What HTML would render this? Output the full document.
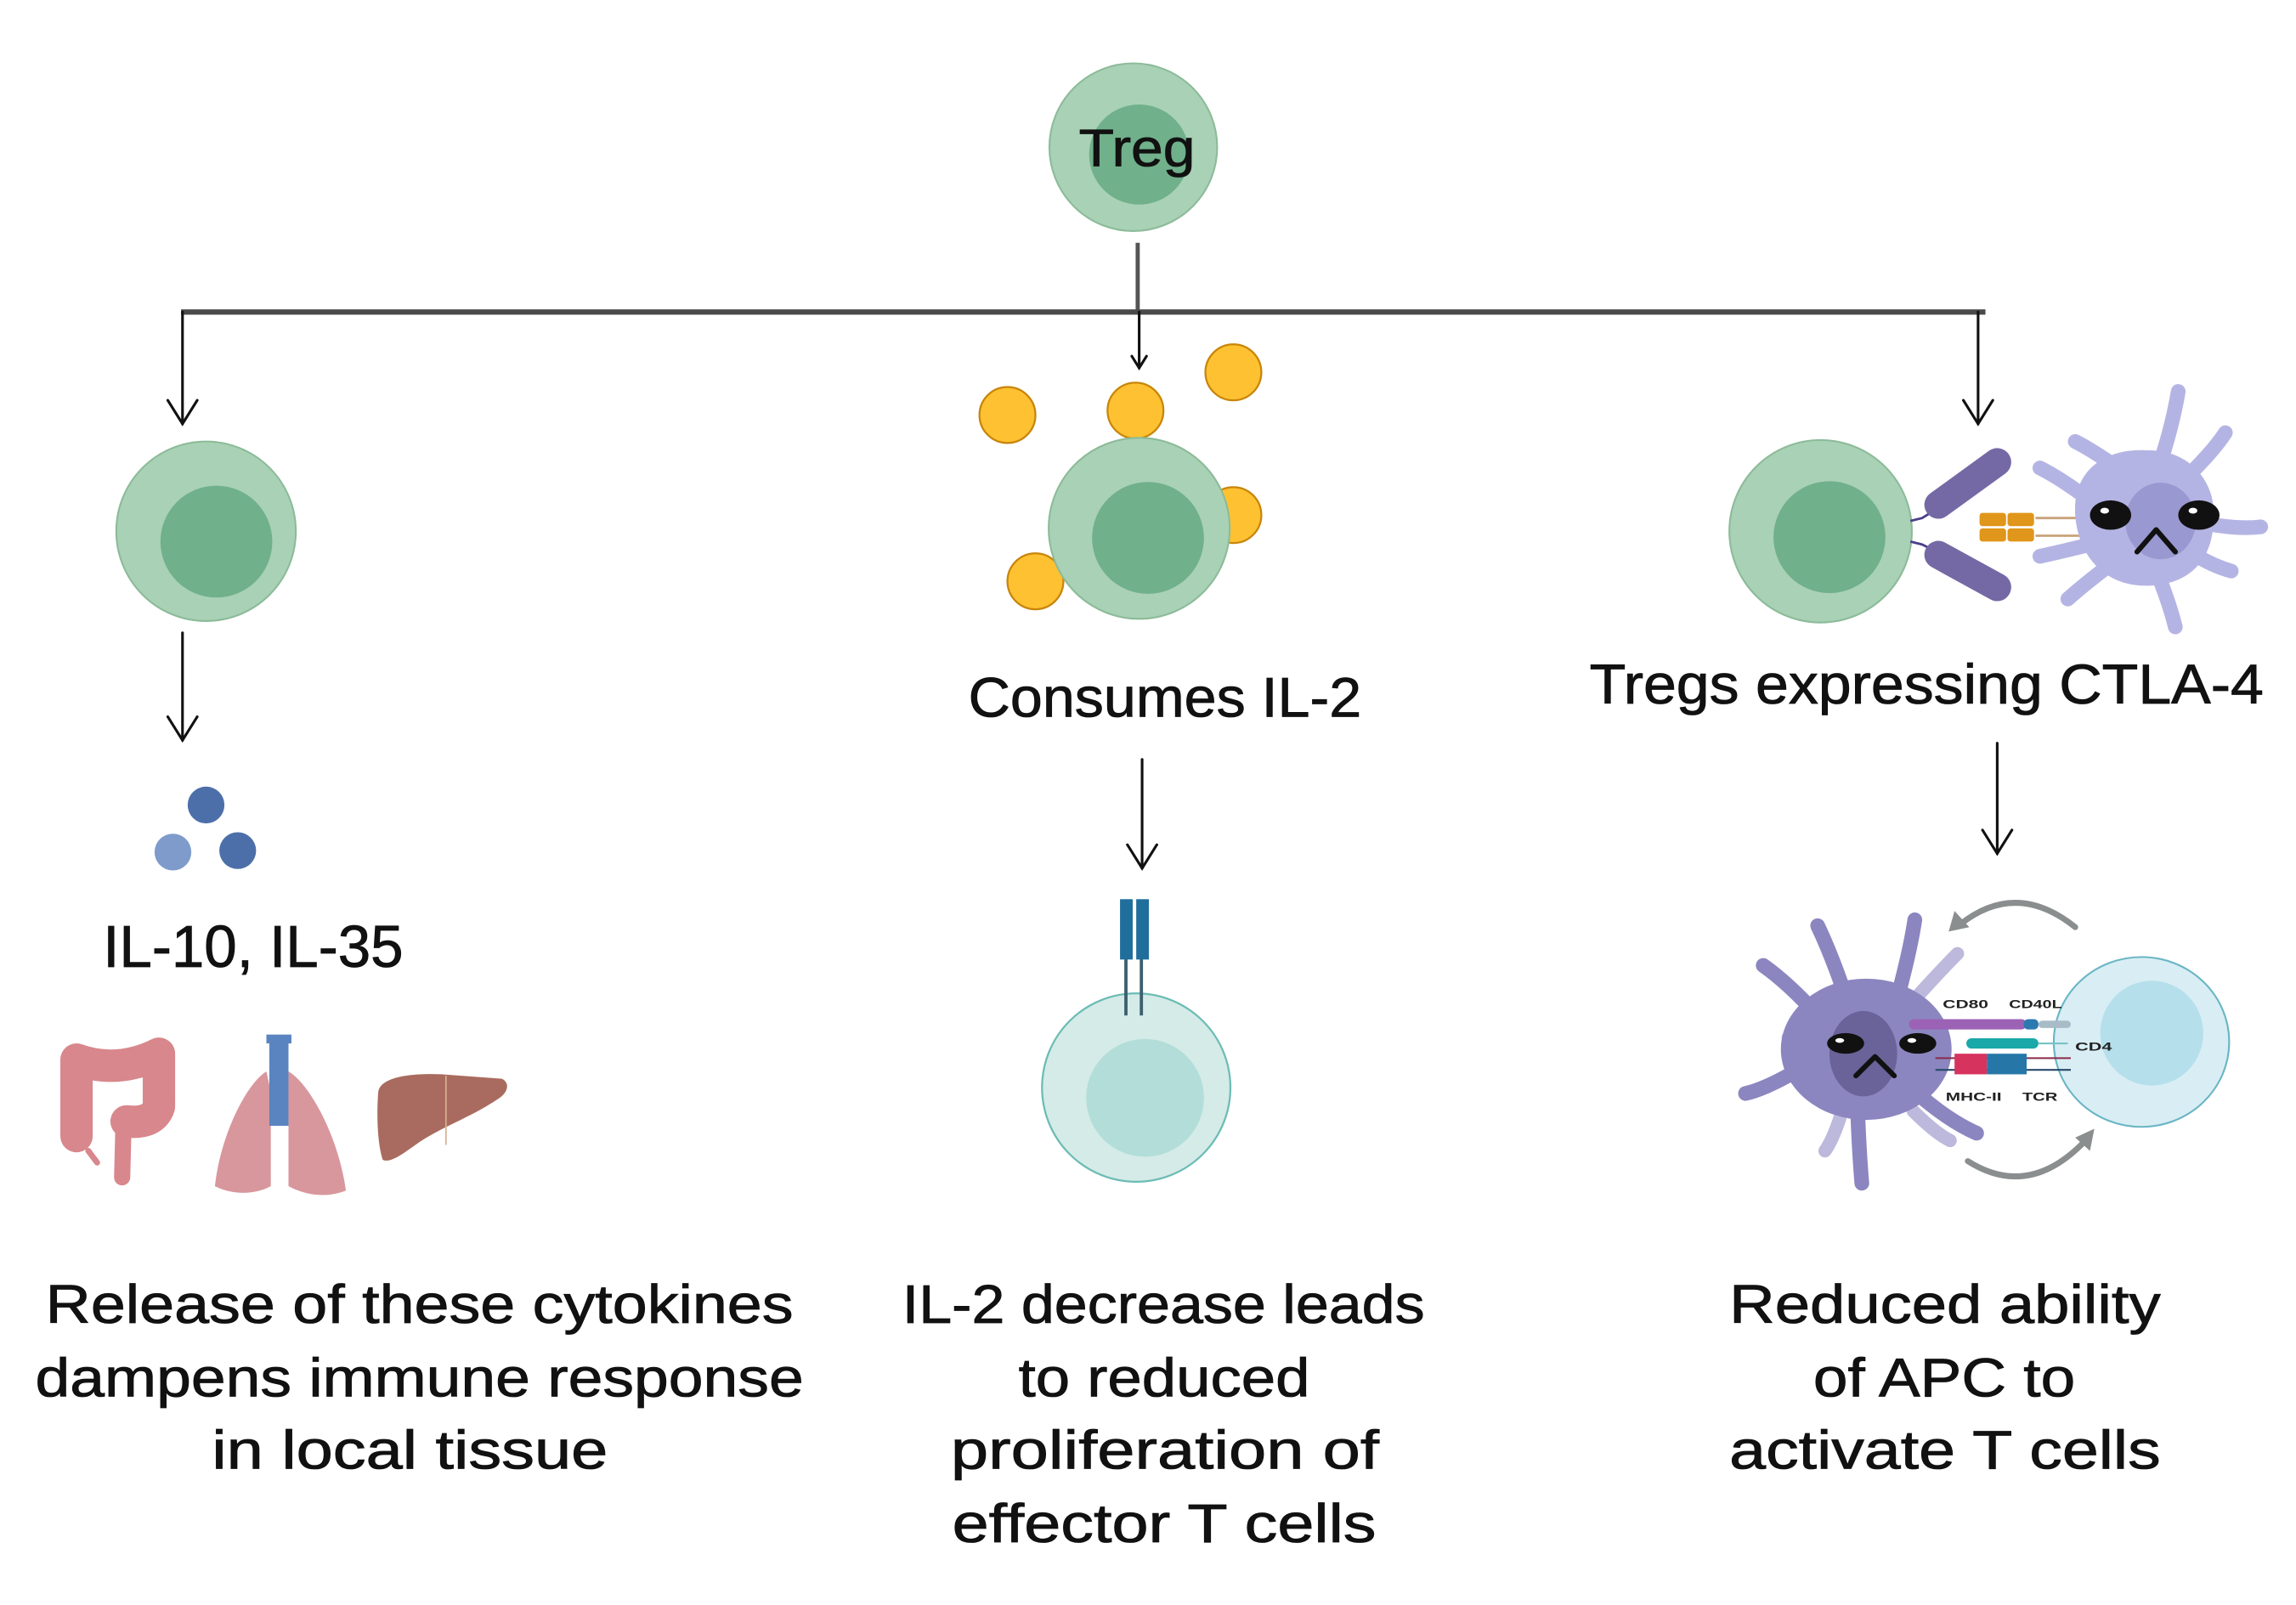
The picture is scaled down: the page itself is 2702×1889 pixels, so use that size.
<!DOCTYPE html>
<html><head><meta charset="utf-8"><style>
html,body{margin:0;padding:0;background:#fff;}
svg{display:block;}
.t{font-family:"Liberation Sans",sans-serif;fill:#111;stroke:#111;stroke-width:0.5;}
.s{font-family:"Liberation Sans",sans-serif;fill:#222;font-size:8px;font-weight:bold;}
</style></head><body>
<svg width="2702" height="1889" viewBox="0 0 1560 1090.6" preserveAspectRatio="none" xmlns="http://www.w3.org/2000/svg">
<rect width="1560" height="1091" fill="#fff"/>

<!-- Top Treg -->
<circle cx="770" cy="100" r="57" fill="#a9d1b5" stroke="#8cbb99" stroke-width="1.2"/>
<circle cx="774" cy="105" r="34" fill="#70b08b"/>
<text class="t" x="733" y="113" font-size="36" textLength="79" lengthAdjust="spacingAndGlyphs">Treg</text>

<!-- connector lines -->
<line x1="773" y1="165" x2="773" y2="212" stroke="#555" stroke-width="2.8"/>
<line x1="123" y1="212" x2="1349" y2="212" stroke="#4a4a4a" stroke-width="3.6"/>
<g stroke="#111" stroke-width="1.8" fill="none" stroke-linecap="round">
  <line x1="124" y1="212" x2="124" y2="288"/><polyline points="114,272 124,288 134,272"/>
  <line x1="774" y1="212" x2="774" y2="250"/><polyline points="769,242 774,250 779,242"/>
  <line x1="1344" y1="212" x2="1344" y2="288"/><polyline points="1334,272 1344,288 1354,272"/>
  <line x1="124" y1="430" x2="124" y2="503"/><polyline points="114,487 124,503 134,487"/>
  <line x1="776" y1="516" x2="776" y2="590"/><polyline points="766,574 776,590 786,574"/>
  <line x1="1357" y1="505" x2="1357" y2="580"/><polyline points="1347,564 1357,580 1367,564"/>
</g>

<!-- Left cell -->
<circle cx="140" cy="361" r="61" fill="#a9d1b5" stroke="#8cbb99" stroke-width="1.2"/>
<circle cx="147" cy="368" r="38" fill="#70b08b"/>

<!-- blue dots -->
<circle cx="140" cy="547" r="12.5" fill="#4d6fa9"/>
<circle cx="117.5" cy="579" r="12.5" fill="#7e9bcb"/>
<circle cx="161.5" cy="578" r="12.5" fill="#4d6fa9"/>

<text class="t" x="70" y="657" font-size="40" textLength="204" lengthAdjust="spacingAndGlyphs">IL-10, IL-35</text>

<!-- colon -->
<g fill="none" stroke="#d8878c" stroke-linecap="round" stroke-linejoin="round">
  <path d="M52 772 L52 720 Q80 730 108 716 L108 752 Q104 764 86 762" stroke-width="22"/>
  <path d="M84 760 L83 800" stroke-width="11"/>
  <path d="M60 782 L66 790" stroke-width="4"/>
</g>
<!-- lungs -->
<path d="M181 728 C168 736 150 770 146 806 C160 813 175 811 184 806 L184 742 Z" fill="#d8979c"/>
<path d="M196 728 C210 736 230 772 235 809 C220 815 205 811 196 806 L196 742 Z" fill="#d8979c"/>
<rect x="183" y="705" width="13" height="60" fill="#5a84c0"/>
<rect x="181" y="703" width="17" height="6" fill="#5a84c0"/>
<!-- liver -->
<path d="M257 742 C258 733 275 729 300 730 L341 733 C347 736 345 743 338 747 C320 759 300 766 285 776 C275 783 265 791 260 788 C256 775 256 755 257 742 Z" fill="#a96b5f"/>
<line x1="303" y1="731" x2="303" y2="778" stroke="#d6b08f" stroke-width="1"/>

<!-- Middle: IL-2 -->
<g fill="#fdc131" stroke="#c8850a" stroke-width="1.3">
  <circle cx="684.5" cy="282" r="19"/>
  <circle cx="771.5" cy="279" r="19"/>
  <circle cx="838" cy="253" r="19"/>
  <circle cx="838" cy="350" r="19"/>
  <circle cx="703.5" cy="395" r="19"/>
</g>
<circle cx="774" cy="359" r="61.5" fill="#a9d1b5" stroke="#8cbb99" stroke-width="1.2"/>
<circle cx="780" cy="365.5" r="38" fill="#70b08b"/>

<text class="t" x="658" y="487" font-size="38" textLength="267" lengthAdjust="spacingAndGlyphs">Consumes IL-2</text>

<!-- effector T cell -->
<circle cx="772" cy="739" r="64" fill="#d4ebe8" stroke="#6cbcb4" stroke-width="1.3"/>
<circle cx="778" cy="746" r="40" fill="#b3ddd8"/>
<line x1="765" y1="650" x2="765" y2="690" stroke="#3d5f70" stroke-width="2.2"/>
<line x1="775.5" y1="650" x2="775.5" y2="690" stroke="#3d5f70" stroke-width="2.2"/>
<rect x="761" y="611" width="8.6" height="41" fill="#1f6e9c"/>
<rect x="772" y="611" width="8.6" height="41" fill="#1f6e9c"/>

<!-- Right: Treg + CTLA-4 + APC -->
<circle cx="1237" cy="361" r="62" fill="#a9d1b5" stroke="#8cbb99" stroke-width="1.2"/>
<circle cx="1243" cy="365" r="38" fill="#70b08b"/>
<g stroke="#4b3f8a" stroke-width="1.6" fill="none">
  <path d="M1298 354 L1306 352 L1314 347"/>
  <path d="M1298 368 L1306 370 L1314 374"/>
</g>
<g stroke="#7469a5" stroke-width="19" stroke-linecap="round">
  <line x1="1317" y1="343" x2="1357" y2="314"/>
  <line x1="1317" y1="377" x2="1357" y2="399"/>
</g>
<g stroke="#c9a27a" stroke-width="1.6">
  <line x1="1383" y1="352" x2="1420" y2="352"/>
  <line x1="1383" y1="364" x2="1420" y2="364"/>
</g>
<g fill="#e0961a">
  <rect x="1345" y="348.5" width="18" height="9" rx="2"/>
  <rect x="1364" y="348.5" width="18" height="9" rx="2"/>
  <rect x="1345" y="359" width="18" height="9" rx="2"/>
  <rect x="1364" y="359" width="18" height="9" rx="2"/>
</g>
<!-- light APC -->
<g stroke="#b4b4e4" stroke-width="10" stroke-linecap="round" fill="none">
  <path d="M1466 320 Q1476 290 1480 266"/>
  <path d="M1488 322 Q1505 305 1512 294"/>
  <path d="M1495 355 Q1520 360 1536 358"/>
  <path d="M1493 378 Q1505 385 1516 388"/>
  <path d="M1466 390 Q1474 410 1478 426"/>
  <path d="M1432 385 Q1415 398 1405 407"/>
  <path d="M1420 340 Q1400 325 1386 318"/>
  <path d="M1420 370 Q1400 375 1386 378"/>
  <path d="M1436 316 Q1420 305 1410 300"/>
</g>
<path d="M1410 350 C1408 318 1432 304 1460 306 C1490 306 1506 330 1504 352 C1504 380 1488 398 1458 398 C1430 398 1412 378 1410 350 Z" fill="#b4b4e4"/>
<ellipse cx="1468" cy="354" rx="24" ry="26" fill="#9a98d0"/>
<ellipse cx="1434" cy="350" rx="14" ry="10" fill="#111"/>
<ellipse cx="1494" cy="350" rx="14" ry="10" fill="#111"/>
<ellipse cx="1430" cy="347" rx="3" ry="2" fill="#fff"/>
<ellipse cx="1490" cy="347" rx="3" ry="2" fill="#fff"/>
<polyline points="1452,375 1465,360 1478,375" fill="none" stroke="#111" stroke-width="3.5" stroke-linecap="round" stroke-linejoin="round"/>

<text class="t" x="1080" y="478" font-size="38" textLength="458" lengthAdjust="spacingAndGlyphs">Tregs expressing CTLA-4</text>

<!-- bottom-right APC and T cell -->
<g stroke="#bdb9dc" stroke-width="9" stroke-linecap="round" fill="none">
  <path d="M1300 680 Q1318 660 1330 648"/>
  <path d="M1235 690 Q1225 700 1215 705"/>
  <path d="M1300 755 Q1315 770 1325 775"/>
  <path d="M1250 760 Q1245 775 1240 782"/>
</g>
<g stroke="#8b86c0" stroke-width="10" stroke-linecap="round" fill="none">
  <path d="M1255 680 Q1245 650 1235 629"/>
  <path d="M1290 675 Q1298 645 1301 625"/>
  <path d="M1235 690 Q1215 668 1198 656"/>
  <path d="M1225 725 Q1200 740 1186 743"/>
  <path d="M1262 750 Q1263 780 1265 804"/>
  <path d="M1305 745 Q1325 762 1343 770"/>
</g>
<ellipse cx="1268" cy="713" rx="58" ry="48" fill="#8b86c0"/>
<ellipse cx="1266" cy="716" rx="23" ry="29" fill="#6a6399"/>
<ellipse cx="1455" cy="708" rx="59.6" ry="57.7" fill="#d8eef4" stroke="#6ab5c4" stroke-width="1.2"/>
<ellipse cx="1462" cy="702" rx="35" ry="35.6" fill="#b6dfec"/>
<!-- molecules -->
<rect x="1297" y="692.5" width="80" height="7" rx="3.5" fill="#9b62b5"/>
<rect x="1375" y="692.5" width="10" height="7" rx="3" fill="#2a7ab0"/>
<rect x="1385" y="693.5" width="22" height="5" rx="2.5" fill="#a8bcc8"/>
<rect x="1336" y="705.5" width="49" height="7" rx="3.5" fill="#1aa8a8"/>
<line x1="1385" y1="709" x2="1405" y2="709" stroke="#79c2c4" stroke-width="1.2"/>
<line x1="1315" y1="719" x2="1407" y2="719" stroke="#8a2a4a" stroke-width="1.2"/>
<line x1="1315" y1="727" x2="1407" y2="727" stroke="#2a4a6a" stroke-width="1.2"/>
<rect x="1328" y="716" width="22" height="14" fill="#d6335e"/>
<rect x="1350" y="716" width="27" height="14" fill="#2677a8"/>
<ellipse cx="1254" cy="709" rx="12.6" ry="7" fill="#111"/>
<ellipse cx="1303" cy="709" rx="12.6" ry="7" fill="#111"/>
<ellipse cx="1250" cy="707" rx="3" ry="1.6" fill="#fff"/>
<ellipse cx="1299" cy="707" rx="3" ry="1.6" fill="#fff"/>
<polyline points="1261,731 1274,718 1287,731" fill="none" stroke="#111" stroke-width="3.5" stroke-linecap="round" stroke-linejoin="round"/>
<text class="s" x="1320" y="685" textLength="31" lengthAdjust="spacingAndGlyphs">CD80</text>
<text class="s" x="1365" y="685" textLength="36" lengthAdjust="spacingAndGlyphs">CD40L</text>
<text class="s" x="1410" y="714" textLength="25" lengthAdjust="spacingAndGlyphs">CD4</text>
<text class="s" x="1322" y="748" textLength="38" lengthAdjust="spacingAndGlyphs">MHC-II</text>
<text class="s" x="1374" y="748" textLength="24" lengthAdjust="spacingAndGlyphs">TCR</text>
<!-- gray arrows -->
<g fill="none" stroke="#8a8e8e" stroke-width="4" stroke-linecap="round">
  <path d="M1410 630 Q1370 598 1332 628"/>
  <path d="M1337 789 Q1378 815 1416 776"/>
</g>
<polygon points="1324,633 1328,619 1338,630" fill="#8a8e8e"/>
<polygon points="1423,767 1420,782 1410,773" fill="#8a8e8e"/>

<!-- Bottom texts -->
<g class="t" font-size="37">
  <text x="31" y="899" textLength="508" lengthAdjust="spacingAndGlyphs">Release of these cytokines</text>
  <text x="24" y="949" textLength="522" lengthAdjust="spacingAndGlyphs">dampens immune response</text>
  <text x="144" y="998" textLength="269" lengthAdjust="spacingAndGlyphs">in local tissue</text>

  <text x="613" y="899" textLength="355" lengthAdjust="spacingAndGlyphs">IL-2 decrease leads</text>
  <text x="692" y="949" textLength="198" lengthAdjust="spacingAndGlyphs">to reduced</text>
  <text x="646" y="998" textLength="291" lengthAdjust="spacingAndGlyphs">proliferation of</text>
  <text x="647" y="1048" textLength="288" lengthAdjust="spacingAndGlyphs">effector T cells</text>

  <text x="1175" y="899" textLength="293" lengthAdjust="spacingAndGlyphs">Reduced ability</text>
  <text x="1232" y="949" textLength="178" lengthAdjust="spacingAndGlyphs">of APC to</text>
  <text x="1175" y="998" textLength="293" lengthAdjust="spacingAndGlyphs">activate T cells</text>
</g>
</svg>
</body></html>
